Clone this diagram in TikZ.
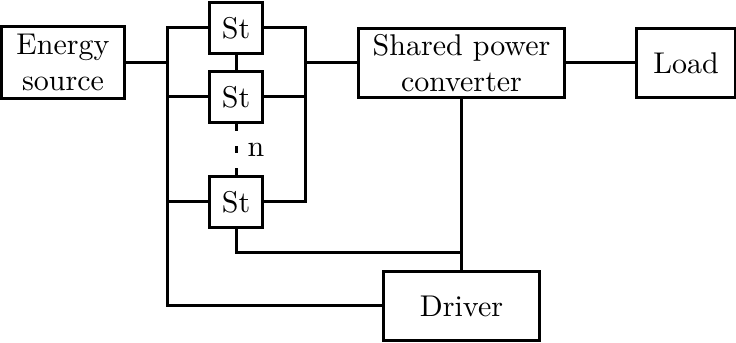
\documentclass[tikz,border=0pt]{standalone}
\usepackage{tikz}
\usetikzlibrary{positioning, calc}

\tikzset{
  block/.style={draw, line width=1pt, align=center, inner sep=2pt},
  stbox/.style={block, minimum width=17.7pt, minimum height=17.3pt},
  wire/.style={line width=1pt},
}

\begin{document}
\begin{tikzpicture}[x=0.3333pt, y=-0.3333pt]
    \useasboundingbox (0,0) rectangle (736,343);

    % Blocks
    \node[block, minimum width=40.7pt, minimum height=23.7pt] (src) at (63,62.5) {Energy\\source};
    \node[block, minimum width=68.7pt, minimum height=23.3pt] (conv) at (461.5,63) {Shared power\\converter};
    \node[block, minimum width=32.7pt, minimum height=23.3pt] (load) at (686,63) {Load};
    \node[block, minimum width=52.3pt, minimum height=22.7pt] (drv) at (461.5,306) {Driver};

    % Switch stack
    \foreach \i/\y in {1/28, 2/97, 3/202} {
      \node[stbox] (st\i) at (236,\y) {St};
    }

    % Busbars
    \coordinate (busL) at (167,306);
    \coordinate (busR) at (305,202);
    \coordinate (jn) at (461.5,253);

    \draw[wire] (st1.west) -| (busL) -- (drv.west);
    \draw[wire] (st1.east) -| (busR) -- (st3.east);
    \foreach \i in {2,3} {
      \draw[wire] (st\i.west) -- (st\i.west -| busL);
    }
    \draw[wire] (st2.east) -- (st2.east -| busR);
    \draw[wire] (src.east) -- (src.east -| busL);
    \draw[wire] (conv.west) -- (conv.west -| busR);
    \draw[wire] (conv) -- (load);

    % Stack links
    \draw[wire] (st1) -- (st2);
    \draw[wire, dash pattern=on 2.3pt off 5pt] (st2) -- (st3) node[midway, right=0pt] {n};

    % Control
    \draw[wire] (conv.south) -- (drv.north);
    \draw[wire] (st3.south) |- (jn);
\end{tikzpicture}
\end{document}
